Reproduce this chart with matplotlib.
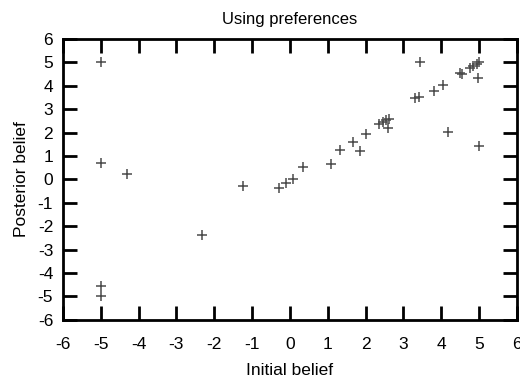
import matplotlib
matplotlib.use("Agg")
import matplotlib.pyplot as plt

plt.rcParams['font.family'] = ['Liberation Sans', 'DejaVu Sans']
plt.rcParams['axes.unicode_minus'] = False

initial = [-5, -5, -4.3, -5, -5, -2.32, -1.23, -0.29, -0.09, 0.09, 0.34, 1.08,
           1.32, 1.68, 1.85, 2.01, 2.36, 2.47, 2.54, 2.61, 2.58, 3.31, 3.40, 3.45,
           3.82, 4.04, 4.19, 4.50, 4.54, 4.76, 4.85, 4.94, 5.0, 4.96, 5.0]
posterior = [5, 0.7, 0.25, -4.55, -5.0, -2.38, -0.26, -0.36, -0.14, 0.03, 0.55, 0.67,
             1.28, 1.62, 1.21, 1.95, 2.35, 2.45, 2.53, 2.59, 2.21, 3.46, 3.52, 5.0,
             3.79, 4.02, 2.04, 4.56, 4.49, 4.77, 4.84, 4.94, 5.0, 4.35, 1.45]
ticks = list(range(-6, 7))

fig = plt.figure(figsize=(5.2, 3.79), dpi=100)
ax = fig.add_axes([0.121, 0.156, 0.873, 0.741])
ax.plot(initial, posterior, linestyle='none', marker='+', color='#4a4a4a',
        markersize=7, markeredgewidth=1.1)
ax.set_xlim(-6, 6)
ax.set_ylim(-6, 6)
ax.set_xticks(ticks)
ax.set_yticks(ticks)
ax.tick_params(direction='in', length=10, width=2, top=True, right=True,
               labelsize=12.5)
ax.tick_params(axis='x', pad=12)
ax.tick_params(axis='y', pad=7)
for s in ax.spines.values():
    s.set_linewidth(2)
ax.set_title('Using preferences', fontsize=12, pad=11)
ax.set_xlabel('Initial belief', fontsize=12.5, labelpad=8)
ax.set_ylabel('Posterior belief', fontsize=12.5, labelpad=6)
fig.savefig('out.png', dpi=100)
